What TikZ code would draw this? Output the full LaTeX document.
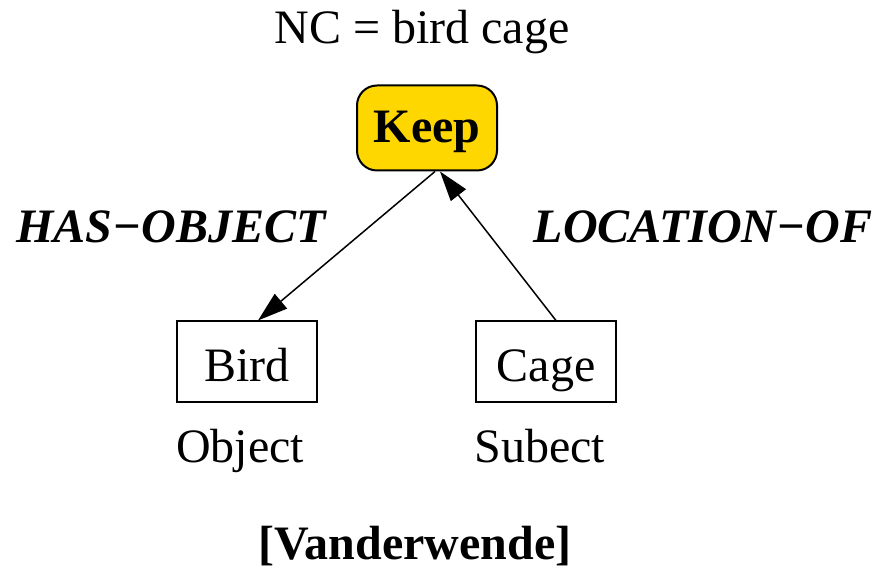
\documentclass[tikz,border=0pt]{standalone}
\usepackage{fontspec}
\setmainfont{Liberation Serif}
\usetikzlibrary{arrows.meta}
\definecolor{keepgold}{RGB}{255,215,0}

\begin{document}
\begin{tikzpicture}[x=0.5pt, y=-0.5pt,
  every node/.style={font=\fontsize{24}{28}\selectfont, inner sep=0pt},
  rel/.style={draw=black, line width=0.75pt, -{Triangle[length=15pt, width=9.5pt]}},
  wordbox/.style={draw=black, line width=1pt, minimum width=70pt, minimum height=40.5pt,
    text height=20pt, text depth=0pt}]

\useasboundingbox (0,0) rectangle (880,571);

\node[anchor=base] (nc) at (422,44) {NC = bird cage};

\node[draw=black, line width=1pt, fill=keepgold, rounded corners=10pt,
  minimum width=70pt, minimum height=42.5pt, text height=15pt, text depth=0pt,
  font=\fontsize{24}{28}\selectfont\bfseries] (keep) at (427,128) {Keep};

\node[wordbox] (bird) at (247,362) {Bird};
\node[wordbox] (cage) at (546,362) {Cage};

\node[anchor=base] (birdrole) at (240,463) {Object};
\node[anchor=base] (cagerole) at (540,463) {Subect};

\node[anchor=base, font=\fontsize{24}{28}\selectfont\bfseries\itshape] (hasobj) at (171,243) {HAS−OBJECT};
\node[anchor=base, font=\fontsize{24}{28}\selectfont\bfseries\itshape] (locof) at (703,243) {LOCATION−OF};

\draw[rel] ([xshift=4pt]keep.south) -- ([xshift=5.5pt]bird.north);
\draw[rel] ([xshift=5pt]cage.north) -- ([xshift=6.5pt]keep.south);

\node[anchor=base, font=\fontsize{24}{28}\selectfont\bfseries] (cite) at (415,560) {[Vanderwende]};
\end{tikzpicture}
\end{document}
